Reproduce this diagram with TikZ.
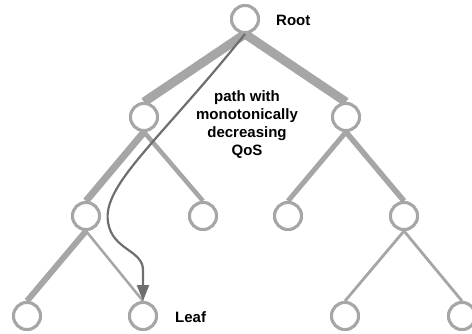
\documentclass[tikz,border=0pt]{standalone}
\usepackage{fontspec}
\setmainfont{Liberation Sans}
\usetikzlibrary{arrows.meta}
\definecolor{edgegray}{HTML}{A6A6A6}
\definecolor{arrowgray}{HTML}{6E6E6E}
\begin{document}
\begin{tikzpicture}[x=1pt,y=-1pt,
  tnode/.style={circle,draw=edgegray,fill=white,line width=3pt,minimum size=27pt,inner sep=0pt},
  tedge/.style={draw=edgegray},
  lbl/.style={font=\bfseries\fontsize{15}{18}\selectfont,align=center,inner sep=0pt}]
\useasboundingbox (0,0) rectangle (472,333);
% nodes
\node[tnode] (r) at (245,19) {};
\node[tnode] (a) at (144,117) {};
\node[tnode] (b) at (346,117) {};
\node[tnode] (aa) at (86,216) {};
\node[tnode] (ab) at (203,216) {};
\node[tnode] (ba) at (288,216) {};
\node[tnode] (bb) at (404,216) {};
\node[tnode] (aaa) at (27,316) {};
\node[tnode] (aab) at (143,316) {};
\node[tnode] (bba) at (345,316) {};
\node[tnode] (bbb) at (462,316) {};
% edges
\path[tedge,line width=9pt] (r.south) -- (a.north);
\path[tedge,line width=9pt] (r.south) -- (b.north);
\path[tedge,line width=7pt] (a.south) -- (aa.north);
\path[tedge,line width=4.5pt] (a.south) -- (ab.north);
\path[tedge,line width=5pt] (b.south) -- (ba.north);
\path[tedge,line width=5.5pt] (b.south) -- (bb.north);
\path[tedge,line width=6pt] (aa.south) -- (aaa.north);
\path[tedge,line width=2.5pt] (aa.south) -- (aab.north);
\path[tedge,line width=2.8pt] (bb.south) -- (bba.north);
\path[tedge,line width=2.8pt] (bb.south) -- (bbb.north);
% redraw nodes on top of edges
\foreach \n in {r,a,b,aa,ab,ba,bb,aaa,aab,bba,bbb}{
  \path[draw=edgegray,fill=white,line width=3pt] (\n.center) circle (13.5pt);
}
% arrow
\draw[arrowgray,line width=2.2pt,-{Triangle[length=16pt,width=12pt]}]
  (r.south) .. controls (160,140) and (102,185) .. (108,222)
  .. controls (112,250) and (143,250) .. (143,270) -- (aab.north);
% labels
\node[lbl,anchor=west] (root) at (276,20) {Root};
\node[lbl] (path) at (247,125) {path with\\monotonically\\decreasing\\QoS};
\node[lbl,anchor=west] (leaf) at (175,317) {Leaf};
\end{tikzpicture}
\end{document}
